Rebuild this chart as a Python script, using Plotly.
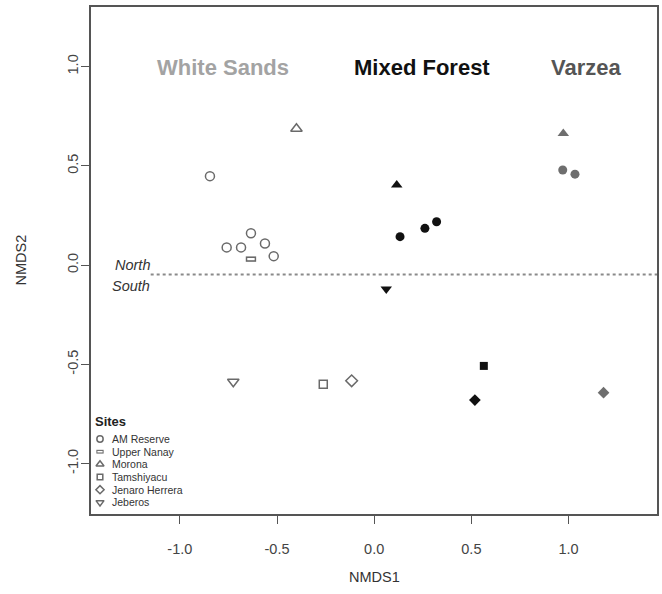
import plotly.graph_objects as go

# ---------------- data ----------------
habitats = ["White Sands", "Mixed Forest", "Varzea"]
sites = ["AM Reserve", "Upper Nanay", "Morona", "Tamshiyacu", "Jenaro Herrera", "Jeberos"]

ws_site  = ["AM Reserve", "AM Reserve", "AM Reserve", "AM Reserve", "AM Reserve", "AM Reserve",
            "Upper Nanay", "Morona", "Tamshiyacu", "Jenaro Herrera", "Jeberos"]
ws_nmds1 = [-0.845, -0.634, -0.759, -0.685, -0.562, -0.517, -0.634, -0.400, -0.262, -0.116, -0.725]
ws_nmds2 = [0.448, 0.160, 0.089, 0.089, 0.109, 0.045, 0.030, 0.687, -0.600, -0.583, -0.588]

mf_site  = ["Morona", "AM Reserve", "AM Reserve", "AM Reserve", "Jeberos", "Tamshiyacu", "Jenaro Herrera"]
mf_nmds1 = [0.116, 0.133, 0.261, 0.321, 0.062, 0.564, 0.518]
mf_nmds2 = [0.403, 0.143, 0.185, 0.218, -0.120, -0.508, -0.680]

vz_site  = ["Morona", "AM Reserve", "AM Reserve", "Jenaro Herrera"]
vz_nmds1 = [0.973, 0.970, 1.033, 1.180]
vz_nmds2 = [0.663, 0.479, 0.458, -0.643]

divider_y = -0.048
tick_vals = [-1.0, -0.5, 0.0, 0.5, 1.0]
tick_text = ["-1.0", "-0.5", "0.0", "0.5", "1.0"]

# ---------------- styles ----------------
FONT = "Liberation Sans, Arial, sans-serif"
GRAY_OPEN = "#6a6a6a"
BLACK = "#111111"
VZ_GRAY = "#6e6e6e"

symbol_of = {"AM Reserve": "circle", "Upper Nanay": "rect", "Morona": "triangle-up",
             "Tamshiyacu": "square", "Jenaro Herrera": "diamond", "Jeberos": "triangle-down"}
size_of = {"AM Reserve": 9, "Upper Nanay": 9, "Morona": 10, "Tamshiyacu": 8,
           "Jenaro Herrera": 9, "Jeberos": 10}

fig = go.Figure()


def add_points(site_list, xs, ys, filled, color, xaxis="x", yaxis="y", scale=1.0):
    for s in sites:
        px = [x for x, si in zip(xs, site_list) if si == s]
        py = [y for y, si in zip(ys, site_list) if si == s]
        if not px:
            continue
        if symbol_of[s] == "rect":
            # hollow flat rectangle: thick gray bar with white core
            fig.add_trace(go.Scatter(x=px, y=py, mode="markers", xaxis=xaxis, yaxis=yaxis,
                                     hoverinfo="skip", showlegend=False,
                                     marker=dict(symbol="line-ew", size=7.4 * scale,
                                                 line=dict(width=5.4 * scale, color=color))))
            fig.add_trace(go.Scatter(x=px, y=py, mode="markers", xaxis=xaxis, yaxis=yaxis,
                                     hoverinfo="skip", showlegend=False,
                                     marker=dict(symbol="line-ew", size=5.3 * scale,
                                                 line=dict(width=2.2 * scale, color="white"))))
            continue
        sym = symbol_of[s] + ("" if filled else "-open")
        fig.add_trace(go.Scatter(
            x=px, y=py, mode="markers", xaxis=xaxis, yaxis=yaxis, showlegend=False,
            name=s,
            marker=dict(symbol=sym, size=size_of[s] * scale, color=color,
                        line=dict(width=1.5 if not filled else 0, color=color))))


add_points(ws_site, ws_nmds1, ws_nmds2, False, GRAY_OPEN)
add_points(mf_site, mf_nmds1, mf_nmds2, True, BLACK)
add_points(vz_site, vz_nmds1, vz_nmds2, True, VZ_GRAY)

# north/south divider
fig.add_trace(go.Scatter(x=[-1.15, 1.46], y=[divider_y, divider_y], mode="lines",
                         hoverinfo="skip", showlegend=False,
                         line=dict(color="#8a8a8a", width=2, dash="dot")))

# ---------------- legend (manual, on an overlay axis in plot-fraction units) ----------------
W, H = 662, 594
ML, MR, MT, MB = 91, 5, 7, 80
PW, PH = W - ML - MR, H - MT - MB

leg_sym_x = (100 - ML) / PW
leg_txt_x = (109.5 - ML) / PW
leg_rows_px = [439, 451.7, 464.3, 477, 489.7, 502.4]
leg_rows = [(MT + PH - r) / PH for r in leg_rows_px]
add_points(sites, [leg_sym_x] * len(sites), leg_rows, False, GRAY_OPEN,
           xaxis="x2", yaxis="y2", scale=0.7)

annotations = []
annotations.append(dict(x=(93 - ML) / PW, y=(MT + PH - 421.5) / PH, xref="x2", yref="y2",
                        text="<b>Sites</b>", showarrow=False, xanchor="left", yanchor="middle",
                        font=dict(family=FONT, size=13, color="#222")))
for s, yy in zip(sites, leg_rows):
    annotations.append(dict(x=leg_txt_x, y=yy, xref="x2", yref="y2", text=s, showarrow=False,
                            xanchor="left", yanchor="middle",
                            font=dict(family=FONT, size=10.5, color="#333")))

# habitat headers
hab_x = [-0.778, 0.246, 1.092]
hab_col = ["#a3a3a3", "#111111", "#555555"]
for h, hx, hc in zip(habitats, hab_x, hab_col):
    annotations.append(dict(x=hx, y=0.997, xref="x", yref="y", text="<b>%s</b>" % h,
                            showarrow=False, xanchor="center", yanchor="middle",
                            font=dict(family=FONT, size=22, color=hc)))

# North / South
annotations.append(dict(x=-1.143, y=divider_y, xref="x", yref="y", text="<i>North</i>",
                        showarrow=False, xanchor="right", yanchor="middle", yshift=10,
                        font=dict(family=FONT, size=14.5, color="#333")))
annotations.append(dict(x=-1.143, y=divider_y, xref="x", yref="y", text="<i>South</i>",
                        showarrow=False, xanchor="right", yanchor="middle", yshift=-11,
                        font=dict(family=FONT, size=14.5, color="#333")))

# axis titles
annotations.append(dict(x=0.5, y=(MT + PH - 577) / PH, xref="paper", yref="paper", text="NMDS1",
                        showarrow=False, xanchor="center", yanchor="middle",
                        font=dict(family=FONT, size=14.5, color="#333")))
annotations.append(dict(x=(20 - ML) / PW, y=0.5, xref="paper", yref="paper", text="NMDS2",
                        showarrow=False, xanchor="center", yanchor="middle", textangle=-90,
                        font=dict(family=FONT, size=14.5, color="#333")))

axis_common = dict(showgrid=False, zeroline=False, showline=True, mirror=True, automargin=False,
                   linecolor="#555555", linewidth=1.6, ticks="outside", ticklen=8,
                   tickwidth=1.2, tickcolor="#555555", tickvals=tick_vals, ticktext=tick_text,
                   tickfont=dict(family=FONT, size=14.5, color="#444"))

fig.update_layout(
    width=W, height=H,
    margin=dict(l=ML, r=MR, t=MT, b=MB, autoexpand=False),
    paper_bgcolor="white", plot_bgcolor="white",
    showlegend=False,
    xaxis=dict(range=[-1.457, 1.455], ticklabelstandoff=13, **axis_common),
    yaxis=dict(range=[-1.254, 1.300], tickangle=-90, ticklabelstandoff=-3, **axis_common),
    xaxis2=dict(range=[0, 1], overlaying="x", visible=False, fixedrange=True),
    yaxis2=dict(range=[0, 1], overlaying="y", visible=False, fixedrange=True),
    annotations=annotations,
)

fig.write_html("out.html", config={"displayModeBar": False},
               post_script="document.body.style.margin='0';document.body.style.overflow='hidden';")
